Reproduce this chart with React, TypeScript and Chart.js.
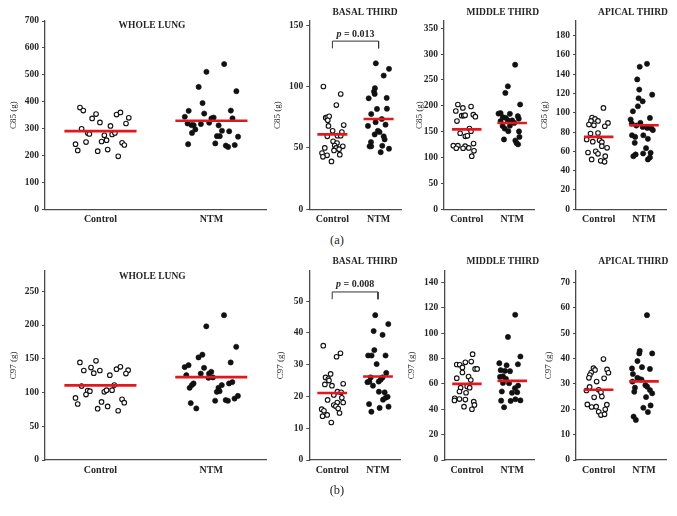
import React, { useEffect, useRef } from "react";
import { Chart, registerables } from "chart.js";

Chart.register(...registerables);

const FONT = "'Liberation Serif', 'Times New Roman', serif";

type Pair = [number, number]; // [offset from category centre, value]

const categories = ["Control", "NTM"];
const panelTitles = ["WHOLE LUNG", "BASAL THIRD", "MIDDLE THIRD", "APICAL THIRD"];
const c85Max = [700, 153.5, 364, 195];
const c85Step = [100, 50, 50, 20];
const c97Max = [280, 59.5, 149, 74.5];
const c97Step = [50, 10, 20, 10];

// ---------- (a) C85 ----------
const c85WholeControl: Pair[] = [[-0.37,378],[-0.31,367],[-0.15,338],[-0.08,354],[-0.01,323],[0.18,310],[0.29,352],[0.36,360],[0.51,340],[0.46,319],[-0.34,299],[-0.23,284],[-0.2,280],[0.07,275],[0.21,278],[0.26,284],[0.11,257],[0.02,252],[-0.26,250],[-0.45,242],[-0.41,219],[0.39,247],[0.43,239],[-0.05,216],[0.13,222],[0.32,197]];
const c85WholeNTM: Pair[] = [[0.23,540],[-0.09,511],[-0.23,455],[0.45,439],[-0.16,395],[-0.41,366],[-0.48,344],[-0.13,356],[0.35,367],[0.38,338],[0,338],[0.04,341],[-0.43,319],[-0.36,313],[-0.32,313],[-0.19,317],[-0.04,322],[0.13,312],[-0.29,297],[-0.35,284],[0.19,292],[0.32,290],[0.1,272],[0.15,272],[0.48,270],[-0.42,242],[0.07,245],[0.26,237],[0.3,232],[0.42,239]];
const c85BasalControl: Pair[] = [[-0.39,100.1],[0.36,94],[0.17,85],[-0.29,74.7],[-0.22,75],[-0.14,75.8],[-0.2,72.5],[-0.17,68],[0.49,68.7],[0.01,64],[0.41,63],[-0.22,59.5],[0.22,60],[0.36,60],[0.03,55.4],[0.2,54],[0.1,52],[-0.33,50],[0.45,51.3],[0.16,50],[0.07,48],[0.29,49],[-0.45,45.8],[-0.23,44],[-0.41,42.8],[0.32,44.5],[-0.04,39]];
const c85BasalNTM: Pair[] = [[-0.12,119],[0.45,114.5],[0.22,109],[-0.16,98.7],[-0.2,96],[-0.43,90.5],[0.35,90.8],[-0.17,94],[-0.07,81.8],[0.36,82],[-0.32,77.7],[-0.46,68],[0.3,69],[-0.13,71],[0.14,73.6],[-0.03,64],[0.04,63],[-0.17,61],[0.22,59.5],[0.26,57],[-0.33,54.8],[-0.39,51.3],[-0.32,51.3],[0.16,51.8],[0.45,49.4],[0.09,46.6]];
const c85MiddleControl: Pair[] = [[-0.39,202.6],[-0.17,196],[-0.48,190],[0.19,198.7],[-0.22,181],[-0.13,181],[-0.07,182],[0.29,183],[0.38,179],[-0.43,170.5],[0.12,156],[0.19,151],[-0.29,147],[-0.06,141],[0.03,142],[0.3,127],[-0.59,123],[-0.39,123],[-0.07,122],[-0.46,118],[-0.16,118],[0.09,118.6],[0.32,113],[0.22,102.6]];
const c85MiddleNTM: Pair[] = [[0.13,279.5],[-0.19,237.8],[-0.3,225],[0.35,202.6],[-0.6,185],[-0.51,186],[-0.1,184.6],[0.25,180],[0.29,175],[-0.41,178],[-0.28,177],[-0.51,170.5],[-0.19,171.8],[0,171.8],[0.09,167],[-0.42,161],[-0.33,156],[-0.1,161.5],[-0.17,151],[0.3,150.6],[-0.36,135],[0.32,140],[0.14,133],[0.19,128],[0.26,125.6]];
const c85ApicalControl: Pair[] = [[0.21,105],[-0.29,95],[-0.16,93.6],[-0.34,91.5],[-0.03,91.5],[-0.43,87.7],[-0.21,87],[0.41,89.5],[0.27,86],[-0.36,78.5],[-0.03,79],[-0.53,72.3],[-0.26,70],[0.04,71.6],[0.14,69.5],[0.14,65.4],[0.37,63.7],[-0.47,58.8],[-0.13,60],[-0.03,57.5],[0.29,55],[-0.31,51.6],[0.09,50.2],[0.26,49.2]];
const c85ApicalNTM: Pair[] = [[0.13,150.7],[-0.19,147.6],[-0.3,134.5],[-0.21,124],[0.36,118.7],[-0.24,115],[-0.06,111.8],[-0.27,106.7],[-0.49,101.5],[-0.59,93],[0.26,94.6],[-0.16,89.5],[-0.54,88.8],[-0.34,86.7],[-0.06,85.3],[0.14,84.3],[0.33,83.6],[0.39,82],[-0.53,76.7],[-0.03,76.7],[-0.39,75],[0.17,73],[-0.41,68.8],[0.09,63.3],[-0.37,56.8],[-0.47,55],[-0.04,57.8],[0.29,58.5],[0.26,53.7],[0.17,51.6]];
const c85Means = [[290.6, 329], [61.1, 73.6], [154.5, 166.7], [75, 87]];

// ---------- (b) C97 ----------
const c97WholeControl: Pair[] = [[-0.37,144.5],[-0.08,147],[-0.3,132.6],[-0.17,137],[-0.12,128.7],[-0.01,132.6],[0.17,125.7],[0.29,134.6],[0.36,138],[0.5,133],[0.46,128],[-0.34,109.5],[-0.23,103],[-0.19,102],[0.07,101],[0.11,103.5],[0.21,103.5],[0.25,111],[-0.26,97],[-0.45,92],[-0.41,83],[0.02,86],[0.39,90],[0.43,85],[-0.05,76],[0.13,79.4],[0.32,73]];
const c97WholeNTM: Pair[] = [[0.23,214.5],[-0.09,198],[0.45,167.7],[-0.16,156],[-0.23,152],[-0.48,137.6],[-0.41,140.5],[-0.13,136.6],[0.35,144.5],[-0.19,128],[-0.04,128],[0,130.7],[-0.45,125.7],[-0.05,121.8],[0.03,122.3],[-0.32,113.4],[-0.35,111],[0.19,111],[0.32,113.4],[0.38,115.4],[-0.39,107],[0.13,107],[0.15,102],[0.1,101],[-0.37,84.3],[-0.27,76.4],[0.07,87.8],[0.26,88.8],[0.3,87.8],[0.42,91],[0.48,95]];
const c97BasalControl: Pair[] = [[-0.39,36],[0.36,33.6],[0.19,32.5],[-0.07,27.1],[-0.29,26],[-0.17,25.5],[-0.14,25],[-0.32,23.8],[-0.01,23.4],[0.48,24],[-0.2,18.9],[0.23,21.5],[0.39,21.3],[0.07,20.5],[0.42,19.6],[0.48,18.1],[0.22,18.1],[0.07,17.3],[0.16,16.9],[0.26,16.2],[0.32,14.8],[-0.46,16],[-0.36,15.5],[-0.22,14.2],[-0.42,13.8],[-0.04,11.8]];
const c97BasalNTM: Pair[] = [[-0.12,45.6],[0.45,42.8],[-0.19,40.6],[0.2,39.4],[-0.16,34.6],[-0.43,32.9],[-0.28,32.9],[0.33,32.9],[-0.06,30.2],[-0.32,26],[0.36,27.4],[-0.46,24.5],[-0.38,24.7],[-0.22,23.4],[0.03,24.7],[0.12,25.3],[0.2,26],[0.04,21.5],[0.29,21.3],[0.42,19.9],[0.22,19],[0.33,19.6],[-0.39,17.6],[-0.29,15.2],[0.07,16.4],[0.46,16.8]];
const c97MiddleControl: Pair[] = [[0.25,83.4],[0.19,77.6],[-0.07,77],[-0.45,75.3],[-0.32,75],[-0.2,73],[0.36,71.8],[0.45,71.8],[-0.2,69],[0.07,65.8],[-0.45,64.5],[0.17,63],[0.01,58],[-0.28,57],[0.12,57],[-0.33,54],[-0.04,53],[-0.54,48.7],[-0.55,47],[-0.33,48],[-0.07,47.6],[0.3,46],[0.33,43.4],[-0.13,42],[0.22,40]];
const c97MiddleNTM: Pair[] = [[0.13,114.5],[-0.19,97],[0.36,81.6],[-0.57,76.3],[-0.25,74.7],[0.25,75.5],[-0.51,70.8],[-0.32,70.3],[-0.1,70],[-0.41,66],[-0.54,65.5],[-0.28,64],[-0.14,60.5],[-0.41,60.8],[0.12,56.6],[0.26,58.7],[-0.46,54],[-0.01,53],[0.22,53.4],[-0.49,46.8],[-0.07,46.6],[0.14,47.9],[0.36,47],[-0.36,41.6]];
const c97ApicalControl: Pair[] = [[0.21,39.8],[-0.23,36.2],[-0.16,35.5],[-0.33,34.5],[-0.39,33.5],[-0.43,32.4],[-0.09,30.9],[0.37,35.7],[0.43,34.4],[0.24,32.2],[-0.54,27.4],[-0.4,28.8],[0,27.7],[0.1,26.7],[0.14,25],[-0.2,24.7],[-0.5,21.9],[-0.31,20.9],[-0.11,21],[0.36,21.8],[0.29,20],[0,19],[0.1,17.7],[0.26,18]];
const c97ApicalNTM: Pair[] = [[0.13,57.1],[-0.19,43],[-0.21,42],[0.36,42],[-0.29,39],[-0.53,36.1],[-0.09,36.6],[0.26,35.9],[-0.49,33.9],[-0.51,30.9],[-0.29,32.4],[-0.2,31.9],[-0.11,31.7],[-0.43,26.9],[-0.4,28.5],[0.06,29.5],[0.14,28.9],[0.26,27.6],[0.36,26.3],[0.09,24.8],[-0.03,20.6],[0.29,21.5],[0.17,18.9],[-0.46,17.1],[-0.36,15.8]];
const c97Means = [[110.5, 122.8], [21.1, 26.3], [60, 62.4], [27.7, 31]];

// p-value annotations (basal third): [label value, bracket value, bracket foot value]
const pTextA = "0.013";
const pLevelsA = [142.6, 137.1, 131.2];
const pTextB = "0.008";
const pLevelsB = [55.2, 52.9, 50.6];

type Layout = { L: number; R: number; T: number; B: number; yTitleX: number; titleX: number; titleY: number; rowTop: number };

const layoutsA: Layout[] = [
  { L: 45, R: 267, T: 21, B: 209.3, yTitleX: 13.3, titleX: 152, titleY: 26, rowTop: 0 },
  { L: 309.3, R: 401.7, T: 21, B: 209.3, yTitleX: 277.7, titleX: 365, titleY: 12.7, rowTop: 0 },
  { L: 444, R: 535, T: 21, B: 209.3, yTitleX: 419, titleX: 502.7, titleY: 12.5, rowTop: 0 },
  { L: 576, R: 666.7, T: 21, B: 209.3, yTitleX: 544, titleX: 633, titleY: 12.5, rowTop: 0 },
];
const layoutsB: Layout[] = [
  { L: 45, R: 266.7, T: 271, B: 460, yTitleX: 13.3, titleX: 152.3, titleY: 276.7, rowTop: 250 },
  { L: 309.3, R: 401, T: 271, B: 460, yTitleX: 280, titleX: 365, titleY: 262, rowTop: 250 },
  { L: 444.3, R: 535, T: 271, B: 460, yTitleX: 411.7, titleX: 502.7, titleY: 262, rowTop: 250 },
  { L: 576, R: 666.7, T: 271, B: 460, yTitleX: 548, titleX: 633.3, titleY: 262, rowTop: 250 },
];

type Spec = {
  title: string;
  yLabel: string;
  max: number;
  step: number;
  groups: Pair[][];
  means: number[];
  p?: { text: string; levels: number[] };
  lay: Layout;
};

const specs: Spec[] = [
  { title: panelTitles[0], yLabel: "C85 (g)", max: c85Max[0], step: c85Step[0], groups: [c85WholeControl, c85WholeNTM], means: c85Means[0], lay: layoutsA[0] },
  { title: panelTitles[1], yLabel: "C85 (g)", max: c85Max[1], step: c85Step[1], groups: [c85BasalControl, c85BasalNTM], means: c85Means[1], p: { text: pTextA, levels: pLevelsA }, lay: layoutsA[1] },
  { title: panelTitles[2], yLabel: "C85 (g)", max: c85Max[2], step: c85Step[2], groups: [c85MiddleControl, c85MiddleNTM], means: c85Means[2], lay: layoutsA[2] },
  { title: panelTitles[3], yLabel: "C85 (g)", max: c85Max[3], step: c85Step[3], groups: [c85ApicalControl, c85ApicalNTM], means: c85Means[3], lay: layoutsA[3] },
  { title: panelTitles[0], yLabel: "C97 (g)", max: c97Max[0], step: c97Step[0], groups: [c97WholeControl, c97WholeNTM], means: c97Means[0], lay: layoutsB[0] },
  { title: panelTitles[1], yLabel: "C97 (g)", max: c97Max[1], step: c97Step[1], groups: [c97BasalControl, c97BasalNTM], means: c97Means[1], p: { text: pTextB, levels: pLevelsB }, lay: layoutsB[1] },
  { title: panelTitles[2], yLabel: "C97 (g)", max: c97Max[2], step: c97Step[2], groups: [c97MiddleControl, c97MiddleNTM], means: c97Means[2], lay: layoutsB[2] },
  { title: panelTitles[3], yLabel: "C97 (g)", max: c97Max[3], step: c97Step[3], groups: [c97ApicalControl, c97ApicalNTM], means: c97Means[3], lay: layoutsB[3] },
];

const AXIS = "#4a4a4a";
const TEXT = "#262626";
const RED = "#e3171e";
const MEAN_HALF = 0.65;

const textPlugin = {
  id: "panelText",
  afterDraw(chart: any, _args: any, opts: any) {
    const ctx = chart.ctx;
    ctx.save();
    ctx.fillStyle = TEXT;
    ctx.textBaseline = "middle";
    ctx.textAlign = "center";
    ctx.font = `bold 9.5px ${FONT}`;
    ctx.fillText(opts.title, opts.tx, opts.ty);
    if (opts.p) {
      const xs = chart.scales.x;
      const ys = chart.scales.y;
      const cx = xs.getPixelForValue(2);
      const cy = ys.getPixelForValue(opts.p.levels[0]);
      ctx.font = `italic bold 10px ${FONT}`;
      const w1 = ctx.measureText("p").width;
      const rest = " = " + opts.p.text;
      ctx.font = `bold 10px ${FONT}`;
      const w2 = ctx.measureText(rest).width;
      const left = cx - (w1 + w2) / 2;
      ctx.textAlign = "left";
      ctx.font = `italic bold 10px ${FONT}`;
      ctx.fillText("p", left, cy);
      ctx.font = `bold 10px ${FONT}`;
      ctx.fillText(rest, left + w1, cy);
    }
    ctx.restore();
  },
};

function Panel({ spec }: { spec: Spec }) {
  const ref = useRef<HTMLCanvasElement>(null);
  const lay = spec.lay;
  const x0 = Math.round(lay.yTitleX - 5.4);
  const y0 = lay.rowTop;
  const W = Math.round(lay.R - x0 + 5);
  const H = Math.round(lay.B + 24 - y0);

  useEffect(() => {
    if (!ref.current) return;
    const padTop = lay.T - y0;
    const yWidth = lay.L - x0;
    const xHeight = H - (lay.B - y0);
    const rightPad = W - (lay.R - x0);

    const datasets: any[] = [];
    spec.means.forEach((m, i) => {
      const c = 1 + 2 * i;
      datasets.push({
        data: [{ x: c - MEAN_HALF, y: m }, { x: c + MEAN_HALF, y: m }],
        showLine: true,
        borderColor: RED,
        borderWidth: 2.6,
        pointRadius: 0,
        borderCapStyle: "butt",
      });
    });
    if (spec.p) {
      const [, top, foot] = spec.p.levels;
      datasets.push({
        data: [{ x: 1, y: foot }, { x: 1, y: top }, { x: 3, y: top }, { x: 3, y: foot }],
        showLine: true,
        borderColor: "#333",
        borderWidth: 1,
        pointRadius: 0,
      });
    }
    spec.groups.forEach((g, i) => {
      const c = 1 + 2 * i;
      datasets.push({
        data: g.map(([dx, v]) => ({ x: c + dx, y: v })),
        pointRadius: i === 0 ? 2.3 : 2.6,
        pointBorderWidth: i === 0 ? 1.1 : 0.6,
        pointBorderColor: "#111",
        pointBackgroundColor: i === 0 ? "#ffffff" : "#111",
      });
    });

    const chart = new Chart(ref.current, {
      type: "scatter",
      data: { datasets },
      options: {
        responsive: false,
        animation: false,
        events: [],
        layout: { padding: { top: padTop, right: rightPad, left: 0, bottom: 0 } },
        plugins: {
          legend: { display: false },
          tooltip: { enabled: false },
          panelText: { title: spec.title, tx: lay.titleX - x0, ty: lay.titleY - y0, p: spec.p },
        } as any,
        scales: {
          x: {
            type: "linear",
            min: 0,
            max: 4,
            afterBuildTicks: (s: any) => {
              s.ticks = [{ value: 1 }, { value: 3 }];
            },
            afterFit: (s: any) => {
              s.height = xHeight;
            },
            ticks: {
              callback: (v: any) => categories[Math.round((Number(v) - 1) / 2)],
              font: { family: FONT, size: 10, weight: "bold" },
              color: TEXT,
              padding: 4,
              maxRotation: 0,
              autoSkip: false,
            },
            grid: { drawOnChartArea: false, drawTicks: false, color: AXIS },
            border: { display: true, color: AXIS, width: 1.3 },
          },
          y: {
            type: "linear",
            min: 0,
            max: spec.max,
            afterFit: (s: any) => {
              s.width = yWidth;
            },
            ticks: {
              stepSize: spec.step,
              includeBounds: false,
              font: { family: FONT, size: 9.5, weight: "bold" },
              color: TEXT,
              padding: 3,
            },
            title: {
              display: true,
              text: spec.yLabel,
              font: { family: FONT, size: 9 },
              color: TEXT,
              padding: { top: 0, bottom: 0 },
            },
            grid: { drawOnChartArea: false, tickLength: 3, color: AXIS },
            border: { display: true, color: AXIS, width: 1.3 },
          },
        },
      } as any,
      plugins: [textPlugin],
    });
    return () => chart.destroy();
  }, []);

  return (
    <canvas
      ref={ref}
      width={W}
      height={H}
      style={{ position: "absolute", left: x0, top: y0, width: W, height: H }}
    />
  );
}

export default function App() {
  return (
    <div style={{ position: "absolute", left: 0, top: 0, width: 677, height: 516, background: "#fff", overflow: "hidden" }}>
      {specs.map((s, i) => (
        <Panel key={i} spec={s} />
      ))}
      <div style={{ position: "absolute", left: 300, width: 74, top: 233, textAlign: "center", fontFamily: FONT, fontSize: 12.5, color: TEXT }}>(a)</div>
      <div style={{ position: "absolute", left: 300, width: 74, top: 483, textAlign: "center", fontFamily: FONT, fontSize: 12.5, color: TEXT }}>(b)</div>
    </div>
  );
}
